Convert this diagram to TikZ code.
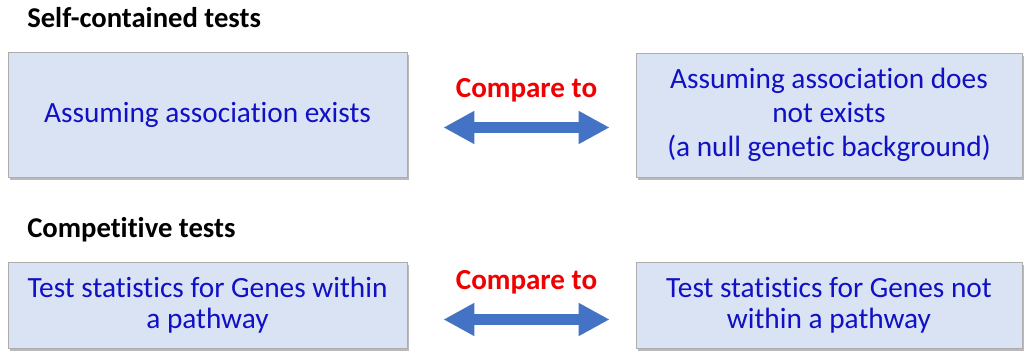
\documentclass[tikz,border=0pt]{standalone}
\usepackage{fontspec}
\setmainfont{Carlito}[Ligatures=NoCommon, RawFeature={-calt}]
\usetikzlibrary{arrows.meta, shadows}
\definecolor{boxfill}{HTML}{DAE3F3}
\definecolor{boxedge}{HTML}{ADADAD}
\definecolor{txtblue}{HTML}{1010C4}
\definecolor{cmpred}{HTML}{F00000}
\definecolor{arrblue}{HTML}{4472C4}

\begin{document}
\begin{tikzpicture}[x=0.75pt, y=-0.75pt,
  testbox/.style={draw=boxedge, line width=0.6pt, fill=boxfill,
    align=center, text=txtblue, font=\fontsize{22}{25.5}\selectfont,
    inner sep=0pt,
    drop shadow={shadow xshift=1.5pt, shadow yshift=-2.2pt,
      opacity=0.45, fill=black!60}},
  heading/.style={anchor=base west, inner sep=0pt,
    font=\fontsize{21.5}{25}\selectfont\bfseries},
  cmparrow/.style={arrblue, line width=8.25pt,
    {Triangle[length=23.25pt, width=23.25pt]}-{Triangle[length=23.25pt, width=23.25pt]}},
  cmplabel/.style={text=cmpred, inner sep=0pt,
    font=\fontsize{21.8}{25}\selectfont\bfseries}]

% Canvas
\useasboundingbox (0,0) rectangle (1026,352);

% ================================================================
% Self-contained tests
% ================================================================
\node[heading] (selfhead) at (27,27.5) {Self-contained tests};

\node[testbox, minimum width=399*0.75pt, minimum height=125*0.75pt]
  (selfyes) at (207.5,114.5) {Assuming association exists};
\node[testbox, minimum width=386*0.75pt, minimum height=124*0.75pt]
  (selfno) at (829,115)
  {Assuming association does\\not exists\\(a null genetic background)};

\draw[cmparrow] ([shift={(36,13)}]selfyes.east) -- ([shift={(-26,12.5)}]selfno.west)
  node[cmplabel, midway, above=15pt] (selfcmp) {Compare to};

% ================================================================
% Competitive tests
% ================================================================
\node[heading] (comphead) at (27,238) {Competitive tests};

\node[testbox, font=\fontsize{22}{23.5}\selectfont,
      minimum width=399*0.75pt, minimum height=86*0.75pt]
  (compin) at (207.5,305) {Test statistics for Genes within\\a pathway};
\node[testbox, font=\fontsize{22}{23.5}\selectfont,
      minimum width=386*0.75pt, minimum height=86*0.75pt]
  (compout) at (829,305) {Test statistics for Genes not\\within a pathway};

\draw[cmparrow] ([shift={(36,14.5)}]compin.east) -- ([shift={(-26,14.5)}]compout.west)
  node[cmplabel, midway, above=15pt] (compcmp) {Compare to};

\end{tikzpicture}
\end{document}
